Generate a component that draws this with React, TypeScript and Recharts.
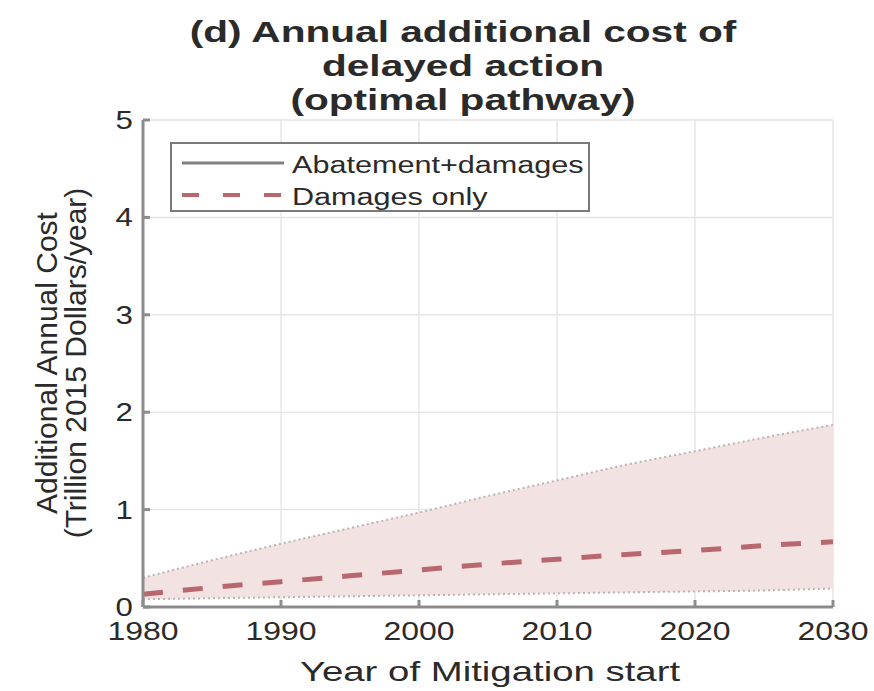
import {
  ComposedChart, Area, Line, XAxis, YAxis, CartesianGrid,
} from 'recharts'

const years = [1980, 1985, 1990, 1995, 2000, 2005, 2010, 2015, 2020, 2025, 2030]
const bandLow = [0.08, 0.09, 0.1, 0.11, 0.12, 0.13, 0.14, 0.15, 0.16, 0.17, 0.19]
const bandHigh = [0.3, 0.48, 0.65, 0.81, 0.97, 1.14, 1.3, 1.46, 1.6, 1.74, 1.87]
const damagesOnly = [0.13, 0.2, 0.26, 0.32, 0.38, 0.44, 0.49, 0.54, 0.58, 0.63, 0.67]
const xTicks = [1980, 1990, 2000, 2010, 2020, 2030]
const yTicks = [0, 1, 2, 3, 4, 5]

const data = years.map((y, i) => ({
  year: y,
  band: [bandLow[i], bandHigh[i]],
  damages: damagesOnly[i],
}))

const font = '"Liberation Sans", Arial, sans-serif'
const textColor = '#2a2a2a'
const dashColor = '#b8676f'
const axisColor = '#8c8c8c'

function LegendBox() {
  return (
    <div style={{
      position: 'absolute', left: 170, top: 142, width: 420, height: 70,
      border: '2px solid #7a7a7a', background: '#fff', boxSizing: 'border-box',
      fontFamily: font, fontSize: 23, color: textColor,
    }}>
      <svg width={110} height={70} style={{ position: 'absolute', left: 6, top: -2 }}>
        <line x1={4} y1={21} x2={106} y2={21} stroke="#808080" strokeWidth={3} />
        <line x1={4} y1={53} x2={110} y2={53} stroke={dashColor} strokeWidth={4} strokeDasharray="17 24" />
      </svg>
      <div style={{ position: 'absolute', left: 120, top: 5, lineHeight: '32px', transform: 'scaleX(1.33)', transformOrigin: 'left top', whiteSpace: 'nowrap' }}>
        Abatement+damages<br />Damages only
      </div>
    </div>
  )
}

function XTick({ x, y, payload }: any) {
  return (
    <g transform={`translate(${x},${y})`}>
      <text transform="scale(1.28,1)" textAnchor="middle" dy={23} fontSize={25} fill={textColor} fontFamily={font}>
        {payload.value}
      </text>
    </g>
  )
}

function YTick({ x, y, payload }: any) {
  return (
    <g transform={`translate(${x},${y})`}>
      <text transform="scale(1.25,1)" textAnchor="end" dy={9} fontSize={25} fill={textColor} fontFamily={font}>
        {payload.value}
      </text>
    </g>
  )
}

function YLabel() {
  const cy = 363
  return (
    <g fontFamily={font} fontSize={30} fill={textColor}>
      <text transform={`translate(57, ${cy}) rotate(-90)`} textAnchor="middle">Additional Annual Cost</text>
      <text transform={`translate(86, ${cy}) rotate(-90)`} textAnchor="middle">(Trillion 2015 Dollars/year)</text>
    </g>
  )
}

function XLabel() {
  return (
    <g transform="translate(490, 681)">
      <text transform="scale(1.37,1)" textAnchor="middle" fontFamily={font} fontSize={28} fill={textColor}>
        Year of Mitigation start
      </text>
    </g>
  )
}

export default function App() {
  return (
    <div style={{ position: 'absolute', left: 0, top: 0, width: 874, height: 691, background: '#fff' }}>
      <ComposedChart width={874} height={691} data={data} margin={{ top: 120, right: 41, bottom: 0, left: 0 }}>
        <CartesianGrid stroke="#e6e6e6" strokeWidth={1.5} />
        <XAxis
          dataKey="year" type="number" domain={[1980, 2030]} ticks={xTicks}
          tick={<XTick />} stroke={axisColor} strokeWidth={3}
          tickSize={-7} tickMargin={17}
          label={<XLabel />}
          height={84}
        />
        <YAxis
          type="number" domain={[0, 5]} ticks={yTicks} width={143}
          tick={<YTick />} stroke={axisColor} strokeWidth={3}
          tickSize={-7} tickMargin={17}
          label={<YLabel />}
        />
        <Area
          dataKey="band" type="monotone" fill="#f2e2e2" fillOpacity={1}
          stroke="#bfb2b2" strokeWidth={2} strokeDasharray="2 3"
          isAnimationActive={false}
        />
        <Line
          dataKey="damages" type="monotone" stroke={dashColor} strokeWidth={5}
          strokeDasharray="20 20" dot={false} isAnimationActive={false}
        />
      </ComposedChart>
      <div style={{
        position: 'absolute', left: 463, top: 15, transform: 'translateX(-50%) scaleX(1.4)',
        textAlign: 'center', whiteSpace: 'nowrap',
        fontFamily: font, fontWeight: 'bold', fontSize: 29, lineHeight: '34px', color: textColor,
      }}>
        (d) Annual additional cost of<br />delayed action<br />(optimal pathway)
      </div>
      <LegendBox />
    </div>
  )
}
